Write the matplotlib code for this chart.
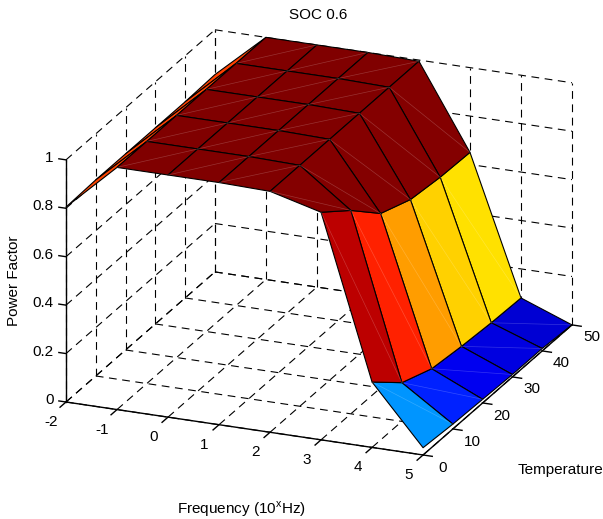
import numpy as np
import matplotlib
matplotlib.use("Agg")
import matplotlib.pyplot as plt
from matplotlib.colors import LinearSegmentedColormap
from mpl_toolkits.mplot3d import proj3d

plt.rcParams["font.family"] = ["Liberation Sans", "DejaVu Sans"]
plt.rcParams["mathtext.fontset"] = "custom"
plt.rcParams["mathtext.rm"] = "Liberation Sans"

freq = [-2, -1, 0, 1, 2, 3, 4, 5]
temp = [0, 10, 20, 30, 40, 50]
z_ticks = [0, 0.2, 0.4, 0.6, 0.8, 1]
z_labels = ["0", "0.2", "0.4", "0.6", "0.8", "1"]

# one row per temperature
pf_t0 = [0.805, 1.0, 1.0, 1.0, 0.995, 0.94, 0.27, 0.03]
pf_t10 = [0.81, 1.0, 1.0, 1.0, 0.995, 0.84, 0.16, 0.02]
pf_t20 = [0.81, 1.0, 1.0, 1.0, 0.995, 0.72, 0.11, 0.015]
pf_t30 = [0.81, 1.0, 1.0, 1.0, 0.995, 0.67, 0.095, 0.01]
pf_t40 = [0.81, 1.0, 1.0, 1.0, 0.995, 0.655, 0.085, 0.01]
pf_t50 = [0.815, 1.0, 1.0, 1.0, 0.995, 0.65, 0.08, 0.0]

WIDTH, HEIGHT = 603, 519
FONT = 11

# matplotlib's jet has its stops in other places than MATLAB's
matlab_jet = LinearSegmentedColormap.from_list("matlab_jet", [
    (0.0, (0, 0, 0.5)),
    (0.125, (0, 0, 1)),
    (0.375, (0, 1, 1)),
    (0.625, (1, 1, 0)),
    (0.875, (1, 0, 0)),
    (1.0, (0.5, 0, 0)),
])

X, Y = np.meshgrid(freq, temp)
Z = np.array([pf_t0, pf_t10, pf_t20, pf_t30, pf_t40, pf_t50])

fig = plt.figure(figsize=(WIDTH / 100, HEIGHT / 100), dpi=100, facecolor="white")
ax = fig.add_axes([0.1, 0.1, 0.8, 0.8], projection="3d", computed_zorder=False)
ax.set_proj_type("ortho")
ax.view_init(elev=21.1, azim=-67.6)
ax.set_box_aspect((386, 390.6, 259.4))
ax.set_axis_off()

x0, x1 = freq[0], freq[-1]
t0, t1 = temp[0], temp[-1]
ax.set_xlim(x0, x1)
ax.set_ylim(t0, t1)
ax.set_zlim(0, 1)
ax.set_xticks([])
ax.set_yticks([])
ax.set_zticks([])

dash = dict(color="black", lw=0.8, ls=(0, (7, 5)), zorder=1)
solid = dict(color="black", lw=1.0, zorder=5)


def projected(x, y, z):
    return proj3d.proj_transform(x, y, z, ax.get_proj())[:2]


def label_at(x, y, z, s, ha="center"):
    px, py = projected(x, y, z)
    ax.text2D(px, py, s, transform=ax.transData, ha=ha, va="center", fontsize=FONT)


# dashed grid on the floor and the two back walls
for f in freq:
    ax.plot([f, f], [t0, t1], [0, 0], **dash)
    ax.plot([f, f], [t1, t1], [0, 1], **dash)
for t in temp:
    ax.plot([x0, x1], [t, t], [0, 0], **dash)
    ax.plot([x0, x0], [t, t], [0, 1], **dash)
for z in z_ticks:
    ax.plot([x0, x0], [t0, t1], [z, z], **dash)
    ax.plot([x0, x1], [t1, t1], [z, z], **dash)

# the axis lines and ticks
ax.plot([x0, x1], [t0, t0], [0, 0], **solid)
ax.plot([x1, x1], [t0, t1], [0, 0], **solid)
ax.plot([x0, x0], [t0, t0], [0, 1], **solid)
for f in freq:
    ax.plot([f, f], [t0, t0 - 2], [0, 0], **solid)
    label_at(f, t0 - 4.9, -0.03, str(f))
for t in temp:
    ax.plot([x1, x1 + 0.18], [t, t], [0, 0], **solid)
    label_at(x1 + 0.38, t, -0.04, str(t))
for z, lab in zip(z_ticks, z_labels):
    ax.plot([x0, x0 - 0.14], [t0, t0], [z, z], **solid)
    label_at(x0 - 0.24, t0, z, lab, ha="right")

# MATLAB colours a face by its first vertex, plot_surface does the same
colors = matlab_jet(plt.Normalize(0, 1)(Z))
ax.plot_surface(X, Y, Z, rstride=1, cstride=1, facecolors=colors, shade=False,
                edgecolor="black", linewidth=0.8, antialiased=True, zorder=3)

# faint seams across each face, left over from the export
for j in range(len(temp) - 1):
    for i in range(1, len(freq) - 1):
        ax.plot([freq[i], freq[i + 1]], [temp[j], temp[j + 1]], [Z[j, i], Z[j + 1, i + 1]],
                color="white", alpha=0.2, lw=0.5, zorder=4)

# plot_surface autoscales, so pin the limits again
ax.set_xlim(x0, x1)
ax.set_ylim(t0, t1)
ax.set_zlim(0, 1)


# put the box where the reference has it: left tick at x=66, y=402, far right at x=572
def corner_pixels():
    fig.canvas.draw()
    return ax.transData.transform([projected(x0, t0, 0), projected(x1, t1, 0)])


p = corner_pixels()
side = 0.8 * HEIGHT * (572 - 66) / (p[1][0] - p[0][0])
ax.set_position([0.1, 0.1, side / WIDTH, side / HEIGHT])
p = corner_pixels()
pos = ax.get_position()
left = pos.x0 + (66 - p[0][0]) / WIDTH
bottom = pos.y0 + ((HEIGHT - 402) - p[0][1]) / HEIGHT
ax.set_position([left, bottom, pos.width, pos.height])

fig.text(318 / WIDTH, 1 - 15 / HEIGHT, "SOC 0.6", ha="center", va="center", fontsize=FONT)
fig.text(14 / WIDTH, 1 - 281 / HEIGHT, "Power Factor", rotation=90, ha="center", va="center", fontsize=FONT)
fig.text(518 / WIDTH, 1 - 470 / HEIGHT, "Temperature", ha="left", va="center", fontsize=FONT)
fig.text(242 / WIDTH, 1 - 509 / HEIGHT, r"Frequency (10$^{\mathrm{x}}$Hz)", ha="center", va="center", fontsize=FONT)

fig.savefig("out.png", dpi=100, facecolor="white")
